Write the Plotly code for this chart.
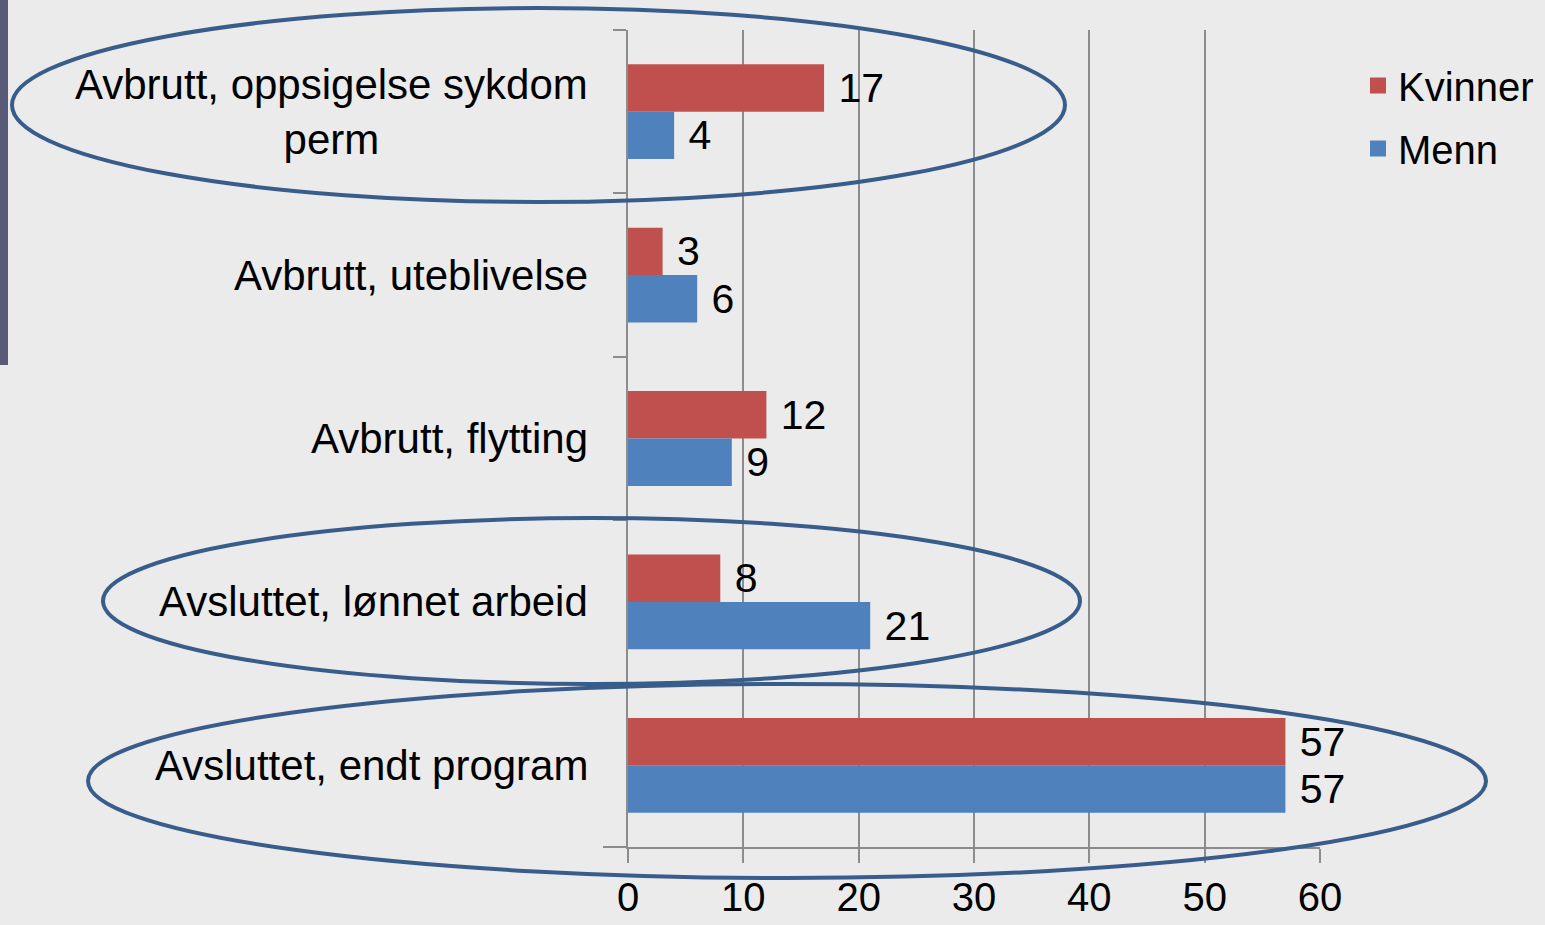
import plotly.graph_objects as go

categories = [
    "Avbrutt, oppsigelse sykdom<br>perm",
    "Avbrutt, uteblivelse",
    "Avbrutt, flytting",
    "Avsluttet, lønnet arbeid",
    "Avsluttet, endt program",
]
series_names = ["Kvinner", "Menn"]
kvinner = [17, 3, 12, 8, 57]
menn = [4, 6, 9, 21, 57]
colors = ["#c0504d", "#4f81bd"]
x_ticks = [0, 10, 20, 30, 40, 50, 60]

W, H = 1545, 925
L, R, T, B = 628, 1320, 30, 847  # plot area in pixels


def px_x(p):
    return (p - L) / (R - L)


def px_y(p):
    return (B - p) / (B - T)


FONT = "Liberation Sans, Arial, sans-serif"
GRID = "#8c8c8c"
FS = 41

fig = go.Figure()
for name, vals, col in zip(series_names, [kvinner, menn], colors):
    fig.add_trace(go.Bar(
        name=name, y=categories, x=vals, orientation="h", showlegend=False,
        marker=dict(color=col, line=dict(width=0)),
        text=vals, texttemplate="\u00a0%{x}", textposition="outside",
        cliponaxis=False, textfont=dict(size=FS, color="black", family=FONT),
    ))
# legend entries (square swatches)
for name, col in zip(series_names, colors):
    fig.add_trace(go.Scatter(
        name=name, x=[None], y=[None], mode="markers", legendgroup=name,
        marker=dict(symbol="square", size=16, color=col),
        showlegend=True, hoverinfo="skip",
    ))

annotations = []
for c in categories:
    annotations.append(dict(
        xref="paper", yref="y", x=px_x(590), y=c, text=c,
        xanchor="right", yanchor="middle", align="center", showarrow=False,
        font=dict(size=42, color="black", family=FONT),
    ))

ell = dict(type="circle", xref="paper", yref="paper",
           line=dict(color="#385d8a", width=4), fillcolor="rgba(0,0,0,0)", layer="above")
shapes = [
    dict(ell, x0=px_x(12), x1=px_x(1065), y0=px_y(202), y1=px_y(8)),
    dict(ell, x0=px_x(103), x1=px_x(1080), y0=px_y(684), y1=px_y(518)),
    dict(ell, x0=px_x(88), x1=px_x(1486), y0=px_y(878), y1=px_y(684)),
    dict(type="rect", xref="paper", yref="paper", x0=px_x(0), x1=px_x(8),
         y0=px_y(365), y1=px_y(0), fillcolor="#585a78", line=dict(width=0), layer="above"),
    dict(type="line", xref="paper", yref="paper", x0=px_x(603), x1=px_x(628),
         y0=0, y1=0, line=dict(color=GRID, width=2), layer="below"),
]

fig.update_layout(
    width=W, height=H,
    margin=dict(l=L, r=W - R, t=T, b=H - B, autoexpand=False),
    paper_bgcolor="#ebebeb", plot_bgcolor="#ebebeb",
    barmode="group", bargap=0.42, bargroupgap=0,
    font=dict(family=FONT, size=FS, color="black"),
    showlegend=True,
    legend=dict(x=px_x(1358), y=px_y(53), xanchor="left", yanchor="top",
                bgcolor="rgba(0,0,0,0)", font=dict(size=40, family=FONT, color="black"),
                traceorder="grouped", tracegroupgap=8, itemwidth=30),
    xaxis=dict(range=[0, 60], tickvals=x_ticks, showgrid=True, gridcolor=GRID, gridwidth=2,
               zeroline=False, showline=True, linecolor=GRID, linewidth=2,
               ticks="outside", ticklen=14, tickwidth=2, tickcolor=GRID,
               ticklabelstandoff=0,
               tickfont=dict(size=40, family=FONT, color="black")),
    yaxis=dict(autorange="reversed", showticklabels=False, showgrid=False, zeroline=False,
               showline=True, linecolor=GRID, linewidth=2,
               ticks="outside", ticklen=13, tickwidth=2, tickcolor=GRID, tickson="boundaries"),
    annotations=annotations,
    shapes=shapes,
)

fig.write_html(
    "out.html",
    config={"displayModeBar": False},
    post_script="document.body.style.margin='0';document.body.style.background='#ebebeb';",
)
